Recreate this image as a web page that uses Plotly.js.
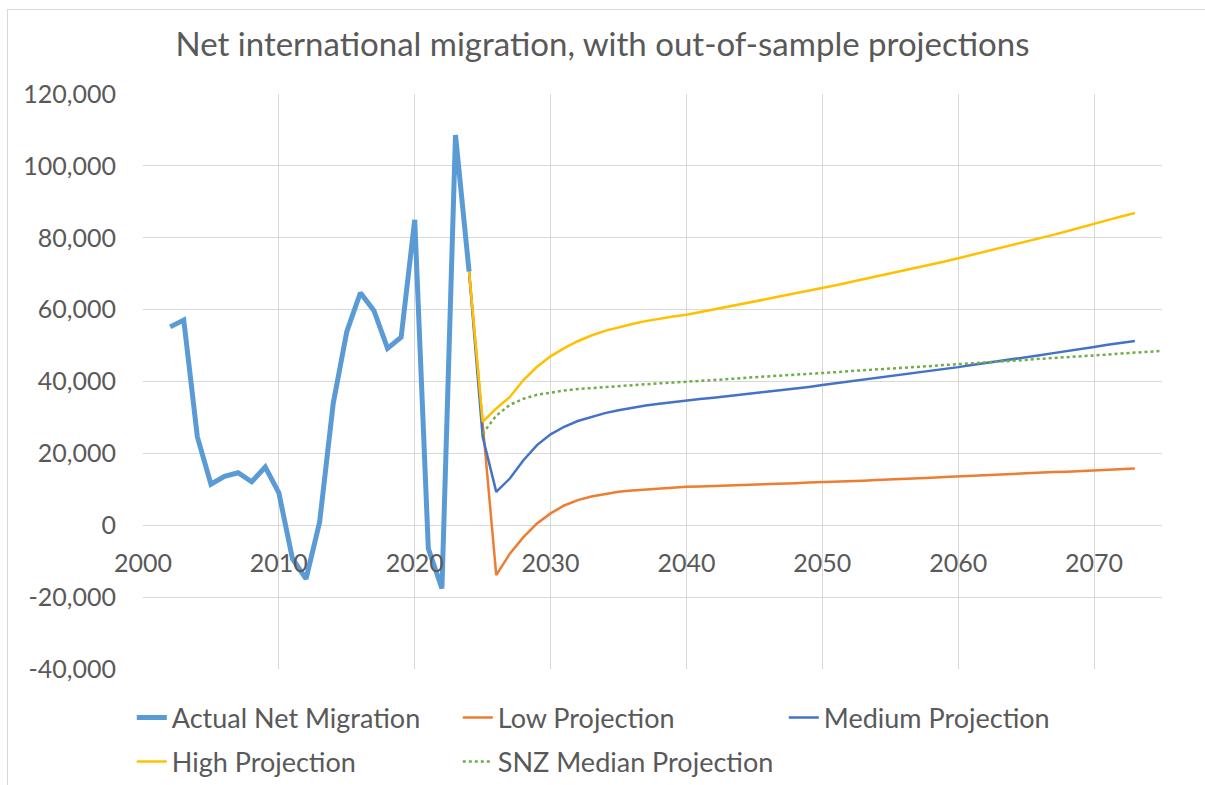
<!DOCTYPE html>
<html>
<head>
<meta charset="utf-8">
<script src="https://cdn.plot.ly/plotly-3.0.1.min.js"></script>
<style>
  html, body { margin: 0; padding: 0; background: #ffffff; }
  #frame { position: absolute; left: 7px; top: 9px; width: 1400px; height: 1000px; border: 1px solid #d9d9d9; box-sizing: border-box; }
  #chart { position: absolute; left: 0; top: 0; width: 1205px; height: 785px; }
</style>
</head>
<body>
<div id="frame"></div>
<div id="chart"></div>
<script>
// ---- Data ----
const actualYears = [2002,2003,2004,2005,2006,2007,2008,2009,2010,2011,2012,2013,2014,2015,2016,2017,2018,2019,2020,2021,2022,2023,2024];
const actualValues = [55200,57100,24600,11400,13600,14600,12100,16200,9000,-9300,-14900,900,33900,53900,64700,59700,49200,52300,85000,-6500,-17600,108600,70600];

const projYears = [2024,2025,2026,2027,2028,2029,2030,2031,2032,2033,2034,2035,2036,2037,2038,2039,2040,2041,2042,2043,2044,2045,2046,2047,2048,2049,2050,2051,2052,2053,2054,2055,2056,2057,2058,2059,2060,2061,2062,2063,2064,2065,2066,2067,2068,2069,2070,2071,2072,2073];

const lowValues = [70600,28300,-13900,-7900,-3300,500,3300,5500,7000,8000,8700,9300,9700,10000,10300,10500,10700,10800,10900,11000,11200,11300,11400,11600,11700,11900,12000,12100,12300,12400,12600,12700,12900,13000,13200,13400,13600,13700,13900,14100,14200,14400,14600,14800,14900,15100,15300,15500,15600,15800];

const mediumValues = [70600,24600,9300,13000,18100,22300,25300,27400,29000,30200,31200,32000,32700,33300,33800,34300,34700,35100,35500,35900,36300,36700,37100,37600,38000,38500,39000,39500,39900,40400,40900,41400,41900,42400,43000,43500,44000,44600,45100,45700,46200,46800,47300,47900,48400,49000,49600,50200,50700,51300];

const highValues = [70600,28800,32500,35700,40400,44100,47000,49300,51200,52800,54100,55100,56000,56800,57500,58100,58600,59300,60000,60700,61500,62200,63000,63800,64500,65300,66000,66800,67600,68400,69200,70000,70800,71600,72500,73400,74300,75200,76100,77000,78000,78900,79900,80800,81800,82900,83900,84900,85900,86900];

const snzYears = [2025,2026,2027,2028,2029,2030,2031,2032,2033,2034,2035,2036,2037,2038,2039,2040,2041,2042,2043,2044,2045,2046,2047,2048,2049,2050,2051,2052,2053,2054,2055,2056,2057,2058,2059,2060,2061,2062,2063,2064,2065,2066,2067,2068,2069,2070,2071,2072,2073,2074,2075];
const snzValues = [25500,30500,33500,35200,36300,37000,37500,37900,38200,38500,38800,39000,39300,39500,39700,39900,40200,40400,40700,40900,41200,41400,41700,41900,42100,42400,42600,42900,43100,43400,43600,43800,44100,44300,44600,44800,45100,45300,45600,45800,46000,46300,46500,46800,47000,47300,47500,47800,48000,48300,48500];

const seriesNames = ["Actual Net Migration","Low Projection","Medium Projection","High Projection","SNZ Median Projection"];
const chartTitle = "Net international migration, with out-of-sample projections";
const yTickVals = [-40000,-20000,0,20000,40000,60000,80000,100000,120000];
const xTickVals = [2000,2010,2020,2030,2040,2050,2060,2070];

// ---- Styling ----
const FONT = "Lato, 'Open Sans', sans-serif";
const TXT = "#595959";
const GRID = "#d9d9d9";

const traces = [
  {x: actualYears, y: actualValues, name: seriesNames[0], type: "scatter", mode: "lines",
   line: {color: "#5b9bd5", width: 5}, legend: "legend"},
  {x: projYears, y: lowValues, name: seriesNames[1], type: "scatter", mode: "lines",
   line: {color: "#ed7d31", width: 2.5}, legend: "legend"},
  {x: projYears, y: mediumValues, name: seriesNames[2], type: "scatter", mode: "lines",
   line: {color: "#4472c4", width: 2.5}, legend: "legend"},
  {x: projYears, y: highValues, name: seriesNames[3], type: "scatter", mode: "lines",
   line: {color: "#ffc000", width: 2.5}, legend: "legend2"},
  {x: snzYears, y: snzValues, name: seriesNames[4], type: "scatter", mode: "lines",
   line: {color: "#70ad47", width: 2.5, dash: "dot"}, legend: "legend2"}
];

const legendBase = {
  orientation: "h", x: -0.011, xanchor: "left", yanchor: "middle",
  entrywidth: 281, entrywidthmode: "pixels",
  font: {family: FONT, size: 27, color: TXT},
  bgcolor: "rgba(0,0,0,0)", traceorder: "normal"
};

const layout = {
  width: 1205, height: 785,
  paper_bgcolor: "rgba(0,0,0,0)", plot_bgcolor: "rgba(0,0,0,0)",
  margin: {l: 143, r: 43, t: 94, b: 116, autoexpand: false},
  font: {family: FONT, color: TXT, size: 25},
  title: {text: chartTitle, x: 0.5, xanchor: "center", y: 0.943, yanchor: "middle",
          font: {family: FONT, size: 33, color: TXT}},
  xaxis: {
    range: [2000, 2075], tickvals: xTickVals, ticktext: xTickVals.map(String),
    showgrid: true, gridcolor: GRID, gridwidth: 1, zeroline: false, showline: false,
    anchor: "free", position: 0.25, ticks: "", ticklabelstandoff: 21,
    tickfont: {family: FONT, size: 25, color: TXT}
  },
  yaxis: {
    range: [-40000, 120000], tickvals: yTickVals,
    ticktext: yTickVals.map(v => v.toLocaleString("en-US")),
    showgrid: true, gridcolor: GRID, gridwidth: 1, zeroline: false, showline: false,
    ticks: "", ticklabelstandoff: 26,
    tickfont: {family: FONT, size: 25, color: TXT}
  },
  showlegend: true,
  legend: Object.assign({}, legendBase, {y: (669 - 718) / 575}),
  legend2: Object.assign({}, legendBase, {y: (669 - 762) / 575})
};

Plotly.newPlot("chart", traces, layout, {displayModeBar: false, responsive: false});
</script>
</body>
</html>
